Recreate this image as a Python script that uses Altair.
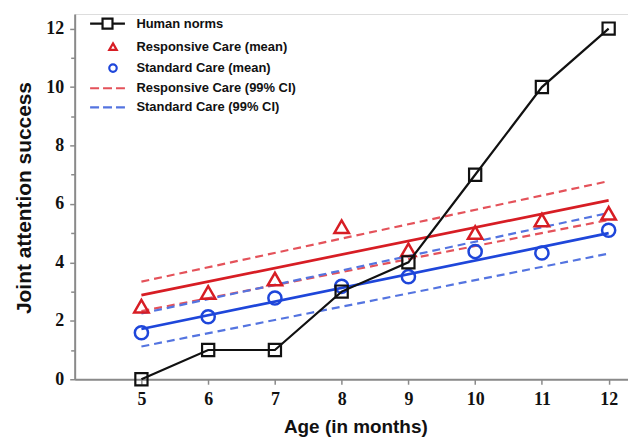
import altair as alt
import pandas as pd

# ---- data ----
ages = [5, 6, 7, 8, 9, 10, 11, 12]
human_norms = [0, 1, 1, 3, 4, 7, 10, 12]
responsive_mean = [2.5, 2.97, 3.43, 5.22, 4.43, 5.02, 5.45, 5.68]
standard_mean = [1.59, 2.14, 2.78, 3.18, 3.51, 4.37, 4.32, 5.1]

fit_ages = [5, 12]
responsive_fit = [2.88, 6.12]
standard_fit = [1.72, 5.0]
responsive_ci_upper = [3.34, 6.78]
responsive_ci_lower = [2.33, 5.45]
standard_ci_upper = [2.25, 5.69]
standard_ci_lower = [1.12, 4.30]

x_ticks = [5, 6, 7, 8, 9, 10, 11, 12]
y_ticks = list(range(0, 13))

legend_names = [
    "Human norms",
    "Responsive Care (mean)",
    "Standard Care (mean)",
    "Responsive Care (99% CI)",
    "Standard Care (99% CI)",
]

# ---- styles ----
BLACK = "#111111"
RED = "#d71d24"
RED_D = "#e4525a"
BLUE = "#1e46da"
BLUE_D = "#5474e0"
AXIS_GREY = "#8a8a8a"

legend_colors = [BLACK, RED, BLUE, RED_D, BLUE_D]
legend_paths = [
    "M-3.5,0H-1M1,0H3.5M-1,-1H1V1H-1Z",
    "M1.1,-0.7L1.85,0.6L0.35,0.6Z",
    "M1.85,0A0.75,0.75,0,1,1,0.35,0A0.75,0.75,0,1,1,1.85,0Z",
    "M-3.5,0H-1.7M-0.9,0H0.9M1.7,0H3.5",
    "M-3.5,0H-1.7M-0.9,0H0.9M1.7,0H3.5",
]

# ---- tables ----
df_pts = pd.DataFrame({
    "age": ages,
    "human": human_norms,
    "resp": responsive_mean,
    "std": standard_mean,
})


def two_lines(a, b):
    return pd.DataFrame({
        "age": fit_ages * 2,
        "value": a + b,
        "band": ["upper"] * len(fit_ages) + ["lower"] * len(fit_ages),
    })


df_resp_ci = two_lines(responsive_ci_upper, responsive_ci_lower)
df_std_ci = two_lines(standard_ci_upper, standard_ci_lower)
df_fit = pd.DataFrame({"age": fit_ages, "resp": responsive_fit, "std": standard_fit})
df_legend = pd.DataFrame({"series": legend_names})

xscale = alt.Scale(domain=[4, 12.29], nice=False, zero=False)
yscale = alt.Scale(domain=[0, 12.5], nice=False, zero=False)

xaxis = alt.Axis(
    values=x_ticks, format="d", grid=False,
    domainColor=AXIS_GREY, domainWidth=2, tickColor=AXIS_GREY, tickWidth=1.5,
    tickSize=5, labelPadding=6, labelFont="Liberation Serif", labelFontWeight="bold",
    labelFontSize=18, labelColor="#111111",
    title="Age (in months)", titleFont="Liberation Sans", titleFontWeight="bold",
    titleFontSize=19, titleColor="#111111", titleX=282, titleY=54,
    titleAlign="center", titleBaseline="alphabetic",
)
yaxis = alt.Axis(
    values=y_ticks, grid=False,
    labelExpr="datum.value % 2 == 0 ? datum.label : ''",
    domainColor=AXIS_GREY, domainWidth=2, tickColor=AXIS_GREY, tickWidth=1.5,
    tickSize={"condition": {"test": "datum.value % 2 == 0", "value": 5}, "value": 4},
    labelPadding=6, labelFont="Liberation Serif", labelFontWeight="bold",
    labelFontSize=18, labelColor="#111111",
    title="Joint attention success", titleFont="Liberation Sans", titleFontWeight="bold",
    titleFontSize=21, titleColor="#111111", titleAngle=270, titleX=-44.3, titleY=184.4,
    titleAlign="center", titleBaseline="alphabetic",
)

X = alt.X("age:Q", scale=xscale, axis=xaxis)

# dashed CI lines
resp_ci = alt.Chart(df_resp_ci).mark_line(strokeDash=[8, 5], strokeWidth=2.2).encode(
    x=X, y=alt.Y("value:Q", scale=yscale, axis=yaxis), detail="band:N", color=alt.value(RED_D))
std_ci = alt.Chart(df_std_ci).mark_line(strokeDash=[8, 5], strokeWidth=2.2).encode(
    x=X, y=alt.Y("value:Q", scale=yscale, axis=yaxis), detail="band:N", color=alt.value(BLUE_D))

# fitted solid lines
resp_fit = alt.Chart(df_fit).mark_line(strokeWidth=2.7).encode(
    x=X, y=alt.Y("resp:Q", scale=yscale, axis=yaxis), color=alt.value(RED))
std_fit = alt.Chart(df_fit).mark_line(strokeWidth=2.7).encode(
    x=X, y=alt.Y("std:Q", scale=yscale, axis=yaxis), color=alt.value(BLUE))

# means
resp_pts = alt.Chart(df_pts).mark_point(shape="triangle-up", filled=False, size=210,
                                        strokeWidth=2.5, opacity=1).encode(
    x=X, y=alt.Y("resp:Q", scale=yscale, axis=yaxis), color=alt.value(RED))
std_pts = alt.Chart(df_pts).mark_point(shape="circle", filled=False, size=175,
                                       strokeWidth=2.5, opacity=1).encode(
    x=X, y=alt.Y("std:Q", scale=yscale, axis=yaxis), color=alt.value(BLUE))

# human norms
human_line = alt.Chart(df_pts).mark_line(strokeWidth=2.2).encode(
    x=X, y=alt.Y("human:Q", scale=yscale, axis=yaxis), color=alt.value(BLACK))
human_pts = alt.Chart(df_pts).mark_point(shape="square", filled=False, size=150,
                                         strokeWidth=2.2, opacity=1).encode(
    x=X, y=alt.Y("human:Q", scale=yscale, axis=yaxis), color=alt.value(BLACK))

leg = alt.Legend(
    title=None, orient="none", legendX=26.5, legendY=3.2, padding=0,
    symbolSize=100, symbolStrokeWidth=2.2, symbolOpacity=1,
    labelFont="Liberation Sans", labelFontWeight="bold", labelFontSize=13,
    labelColor="#111111", labelOffset=22.5, rowPadding=5.3, labelLimit=400,
)
legend_layer = alt.Chart(df_legend).mark_point(filled=False, strokeWidth=2, opacity=1).encode(
    shape=alt.Shape("series:N", sort=None,
                    scale=alt.Scale(domain=legend_names, range=legend_paths), legend=leg),
    color=alt.Color("series:N", sort=None,
                    scale=alt.Scale(domain=legend_names, range=legend_colors), legend=leg),
).transform_filter("false")

chart = alt.layer(
    resp_ci, std_ci, resp_fit, std_fit, resp_pts, std_pts, human_line, human_pts, legend_layer
).properties(
    width=556, height=367,
    autosize=alt.AutoSizeParams(type="none"),
    padding={"left": 67, "top": 5, "right": 0, "bottom": 58},
).configure_view(stroke=None).configure(background="white")

chart.save("out.html", embed_options={"renderer": "svg", "actions": False})
